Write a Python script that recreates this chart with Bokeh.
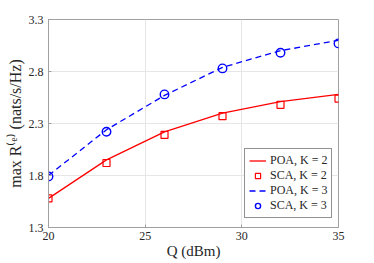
from bokeh.plotting import figure
from bokeh.models import Range1d, FixedTicker, Legend, LegendItem
from bokeh.embed import file_html
from bokeh.resources import INLINE

Q = [20, 23, 26, 29, 32, 35]
poa_k2 = [1.58, 1.95, 2.22, 2.40, 2.51, 2.58]
sca_k2 = [1.58, 1.92, 2.19, 2.37, 2.48, 2.54]
poa_k3 = [1.80, 2.24, 2.57, 2.84, 3.00, 3.10]
sca_k3 = [1.79, 2.22, 2.58, 2.83, 2.98, 3.07]
x_ticks = [20, 25, 30, 35]
y_ticks = [1.3, 1.8, 2.3, 2.8, 3.3]

FONT = "Liberation Serif"
TXT = "#262626"

W, H = 372, 263
L, R, T, B = 48, 34, 19, 36
X0, X1, Y0, Y1 = 20, 35, 1.3, 3.3

p = figure(width=W, height=H, output_backend="svg", toolbar_location=None,
           x_range=Range1d(X0, X1), y_range=Range1d(Y0, Y1),
           min_border_left=L, min_border_top=T, min_border_right=R, min_border_bottom=B)

p.outline_line_color = "#a0a0a0"
p.outline_line_width = 1
for ax in (p.xaxis[0], p.yaxis[0]):
    ax.axis_line_color = "#a0a0a0"
    ax.major_tick_line_color = "#a0a0a0"
    ax.major_tick_in = 3
    ax.major_tick_out = 0
    ax.minor_tick_line_color = None
    ax.major_label_text_font = FONT
    ax.major_label_text_font_size = "12px"
    ax.major_label_text_color = TXT
    ax.axis_label_text_font = FONT
    ax.axis_label_text_font_style = "normal"
    ax.axis_label_text_color = TXT

p.xaxis.axis_label_text_font_size = "15px"
p.yaxis.axis_label_text_font_size = "16px"
p.xaxis.ticker = FixedTicker(ticks=x_ticks)
p.yaxis.ticker = FixedTicker(ticks=y_ticks)
p.xaxis.major_label_standoff = 4
p.yaxis.major_label_standoff = 5
p.xaxis.axis_label = "Q (dBm)"
p.yaxis.axis_label = "max R⁽ᵉ⁾ (nats/s/Hz)"
p.xaxis.axis_label_standoff = 0
p.yaxis.axis_label_standoff = 2

p.grid.grid_line_color = "#e6e6e6"
p.grid.grid_line_width = 1

r1 = p.line(Q, poa_k2, line_color="#ff0000", line_width=1.3)
r2 = p.scatter(Q, sca_k2, marker="square", size=7, fill_color=None,
               line_color="#ff0000", line_width=1.2)
r3 = p.line(Q, poa_k3, line_color="#0000ff", line_width=1.3, line_dash="6 4")
r4 = p.scatter(Q, sca_k3, marker="circle", size=8.5, fill_color=None,
               line_color="#0000ff", line_width=1.4)

legend = Legend(items=[
    LegendItem(label="POA, K = 2", renderers=[r1]),
    LegendItem(label="SCA, K = 2", renderers=[r2]),
    LegendItem(label="POA, K = 3", renderers=[r3]),
    LegendItem(label="SCA, K = 3", renderers=[r4]),
], location=(196, 9))
legend.label_text_font = FONT
legend.label_text_font_size = "12px"
legend.label_text_color = TXT
legend.label_height = 13
legend.glyph_height = 13
legend.glyph_width = 17
legend.label_standoff = 4
legend.spacing = 0
legend.padding = 4
legend.margin = 0
legend.border_line_color = "#262626"
legend.border_line_width = 1
legend.background_fill_color = "white"
legend.background_fill_alpha = 1
p.add_layout(legend, "center")

open("out.html", "w").write(file_html(p, INLINE))
